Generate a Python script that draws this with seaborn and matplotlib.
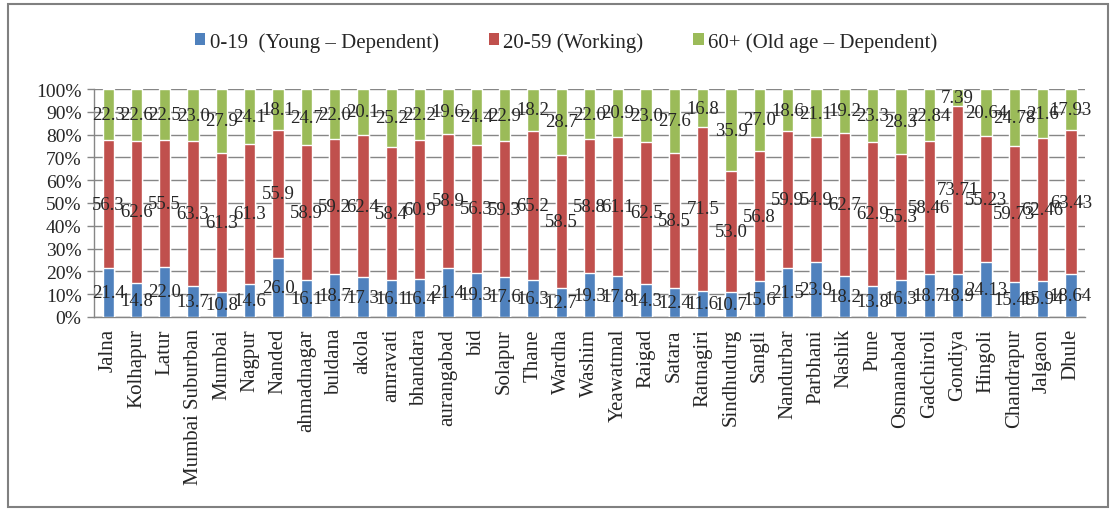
from matplotlib import pyplot as plt
from matplotlib.patches import Patch, Rectangle
import pandas as pd
import seaborn as sns
import numpy as np

districts = ["Jalna", "Kolhapur", "Latur", "Mumbai Suburban", "Mumbai", "Nagpur",
             "Nanded", "ahmadnagar", "buldana", "akola", "amravati", "bhandara",
             "aurangabad", "bid", "Solapur", "Thane", "Wardha", "Washim",
             "Yeawatmal", "Raigad", "Satara", "Ratnagiri", "Sindhudurg", "Sangli",
             "Nandurbar", "Parbhani", "Nashik", "Pune", "Osmanabad", "Gadchiroli",
             "Gondiya", "Hingoli", "Chandrapur", "Jalgaon", "Dhule"]

young = [21.4, 14.8, 22.0, 13.7, 10.8, 14.6, 26.0, 16.1, 18.7, 17.3, 16.1, 16.4,
         21.4, 19.3, 17.6, 16.3, 12.7, 19.3, 17.8, 14.3, 12.4, 11.6, 10.7, 15.6,
         21.5, 23.9, 18.2, 13.8, 16.3, 18.7, 18.9, 24.13, 15.49, 15.94, 18.64]
working = [56.3, 62.6, 55.5, 63.3, 61.3, 61.3, 55.9, 58.9, 59.2, 62.4, 58.4, 60.9,
           58.9, 56.3, 59.3, 65.2, 58.5, 58.8, 61.1, 62.5, 58.5, 71.5, 53.0, 56.8,
           59.9, 54.9, 62.7, 62.9, 55.3, 58.46, 73.71, 55.23, 59.73, 62.46, 63.43]
old = [22.3, 22.6, 22.5, 23.0, 27.9, 24.1, 18.1, 24.7, 22.0, 20.1, 25.2, 22.2,
       19.6, 24.4, 22.9, 18.2, 28.7, 22.0, 20.9, 23.0, 27.6, 16.8, 35.9, 27.0,
       18.6, 21.1, 19.2, 23.3, 28.3, 22.84, 7.39, 20.64, 24.78, 21.6, 17.93]

series_names = ["0-19  (Young \u2013 Dependent)", "20-59 (Working)",
                "60+ (Old age \u2013 Dependent)"]
colors = ["#4F81BD", "#C0504D", "#9BBB59"]

df = pd.DataFrame({"district": districts, "young": young,
                   "working": working, "old": old})
total = df[["young", "working", "old"]].sum(axis=1)
# 100% stacked: normalise each district
df["c1"] = df["young"] / total * 100
df["c2"] = (df["young"] + df["working"]) / total * 100
df["c3"] = 100.0


def fmt(v):
    # keep the decimals shown in the source (one or two)
    s = f"{v:.2f}"
    return s if s[-1] != "0" else f"{v:.1f}"


sns.set_style("white")
plt.rcParams["font.family"] = ["Liberation Serif", "DejaVu Serif"]

fig = plt.figure(figsize=(11.1, 5.1), dpi=100)
ax = fig.add_axes([0.0847, 0.3765, 0.8928, 0.447])

# draw from the top layer down so each bar covers the one behind
for col, c in zip(["c3", "c2", "c1"], colors[::-1]):
    sns.barplot(data=df, x="district", y=col, color=c, width=0.40,
                order=districts, ax=ax, saturation=1, zorder=3)

x = np.arange(len(districts))
for i in range(len(districts)):
    vals = [df["young"][i], df["working"][i], df["old"][i]]
    lows = [0, df["c1"][i], df["c2"][i]]
    highs = [df["c1"][i], df["c2"][i], df["c3"][i]]
    for v, lo, hi in zip(vals, lows, highs):
        ax.text(x[i], (lo + hi) / 2, fmt(v), ha="center", va="center",
                fontsize=13.5, zorder=5)

ax.set_ylim(0, 100)
ax.set_xlim(-0.5, len(districts) - 0.5)
ax.set_yticks(np.arange(0, 101, 10))
ax.set_yticklabels([f"{t}%" for t in range(0, 101, 10)], fontsize=14)
ax.set_xticks(x)
ax.set_xticklabels(districts, rotation=90, fontsize=15)
ax.set_xticks(np.arange(-0.5, len(districts), 1), minor=True)
ax.tick_params(axis="x", which="major", length=0, pad=8)
ax.tick_params(axis="x", which="minor", length=5, color="#868686", width=1)
ax.tick_params(axis="y", length=5, color="#868686", width=1, pad=4, left=True)
ax.set_xlabel("")
ax.set_ylabel("")
ax.yaxis.grid(True, color="#868686", linewidth=1, zorder=0)
ax.set_axisbelow(True)
for s in ["top", "right"]:
    ax.spines[s].set_visible(False)
for s in ["left", "bottom"]:
    ax.spines[s].set_color("#868686")
    ax.spines[s].set_linewidth(1)

handles = [Patch(facecolor=c, edgecolor="none") for c in colors]
fig.legend(handles, series_names, loc="center", bbox_to_anchor=(0.51, 0.916),
           ncol=3, frameon=False, fontsize=15, handlelength=0.5,
           handleheight=0.5, handletextpad=0.2, columnspacing=2.4)

# outer chart border
fig.patches.append(Rectangle((8 / 1110, 2 / 510), 1100 / 1110, 503 / 510,
                             transform=fig.transFigure, fill=False,
                             edgecolor="#808080", linewidth=1.5))

fig.savefig("out.png", dpi=100)
